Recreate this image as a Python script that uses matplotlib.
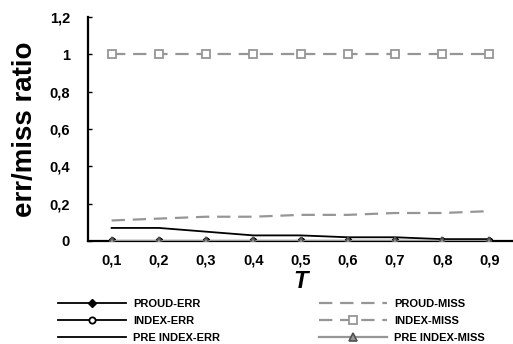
import numpy as np
import matplotlib
matplotlib.use('Agg')
import matplotlib.pyplot as plt

plt.rcParams['font.family'] = ['Liberation Sans', 'DejaVu Sans']
plt.rcParams['font.weight'] = 'bold'

t_labels = ['0,1', '0,2', '0,3', '0,4', '0,5', '0,6', '0,7', '0,8', '0,9']
proud_err = [0, 0, 0, 0, 0, 0, 0, 0, 0]
index_err = [0, 0, 0, 0, 0, 0, 0, 0, 0]
pre_index_err = [0.07, 0.07, 0.05, 0.03, 0.03, 0.02, 0.02, 0.01, 0.01]
proud_miss = [0.11, 0.12, 0.13, 0.13, 0.14, 0.14, 0.15, 0.15, 0.16]
index_miss = [1, 1, 1, 1, 1, 1, 1, 1, 1]
pre_index_miss = [0, 0, 0, 0, 0, 0, 0, 0, 0]
y_ticks = [0, 0.2, 0.4, 0.6, 0.8, 1, 1.2]
y_labels = ['0', '0,2', '0,4', '0,6', '0,8', '1', '1,2']

grey = '#969696'
x = np.arange(1, len(t_labels) + 1)

fig = plt.figure(figsize=(5.13, 3.44), dpi=100)
ax = fig.add_axes([88/513, 1 - 241/344, 1 - 88/513, 224/344])

ax.plot(x, proud_err, color='black', lw=1.3, marker='D', ms=4.5, mfc='black', mec='black', label='PROUD-ERR', zorder=3)
ax.plot(x, index_err, color='black', lw=1.3, marker='o', ms=4.5, mfc='white', mec='black', mew=1.3, label='INDEX-ERR', zorder=3)
ax.plot(x, pre_index_err, color='black', lw=1.3, label='PRE INDEX-ERR', zorder=3)
ax.plot(x, proud_miss, color=grey, lw=1.6, dashes=(6, 3.5), label='PROUD-MISS', zorder=3)
ax.plot(x, index_miss, color=grey, lw=1.6, dashes=(6, 3.5), marker='s', ms=5.5, mfc='white', mec=grey, mew=1.3, label='INDEX-MISS', zorder=3)
ax.plot(x, pre_index_miss, color=grey, lw=1.6, marker='^', ms=6, mfc=grey, mec='#505050', mew=1.2, label='PRE INDEX-MISS', zorder=4)

ax.set_xlim(0.5, 9.5)
ax.set_ylim(0, 1.2)
ax.set_xticks(x)
ax.set_xticklabels(t_labels, fontsize=10.5, fontweight='bold')
ax.set_yticks(y_ticks)
ax.set_yticklabels(y_labels, fontsize=10.5, fontweight='bold')
ax.tick_params(axis='x', length=0, pad=9)
ax.tick_params(axis='y', direction='in', length=3, width=1, pad=13)
for s in ['top', 'right']:
    ax.spines[s].set_visible(False)
for s in ['left', 'bottom']:
    ax.spines[s].set_linewidth(1.6)
ax.spines['bottom'].set_zorder(2)

ax.set_ylabel('err/miss ratio', fontsize=20, fontweight='bold', labelpad=8)
ax.set_xlabel('T', fontsize=17, fontweight='bold', style='italic', labelpad=2)

fig.legend(loc='upper left', bbox_to_anchor=(58/513, 1 - 299/344), ncol=2,
           frameon=False, prop={'size': 8, 'weight': 'bold'},
           handlelength=6.1, handletextpad=0.65, columnspacing=8.9,
           labelspacing=0.62, borderaxespad=0, borderpad=0)

fig.savefig('out.png', dpi=100)
